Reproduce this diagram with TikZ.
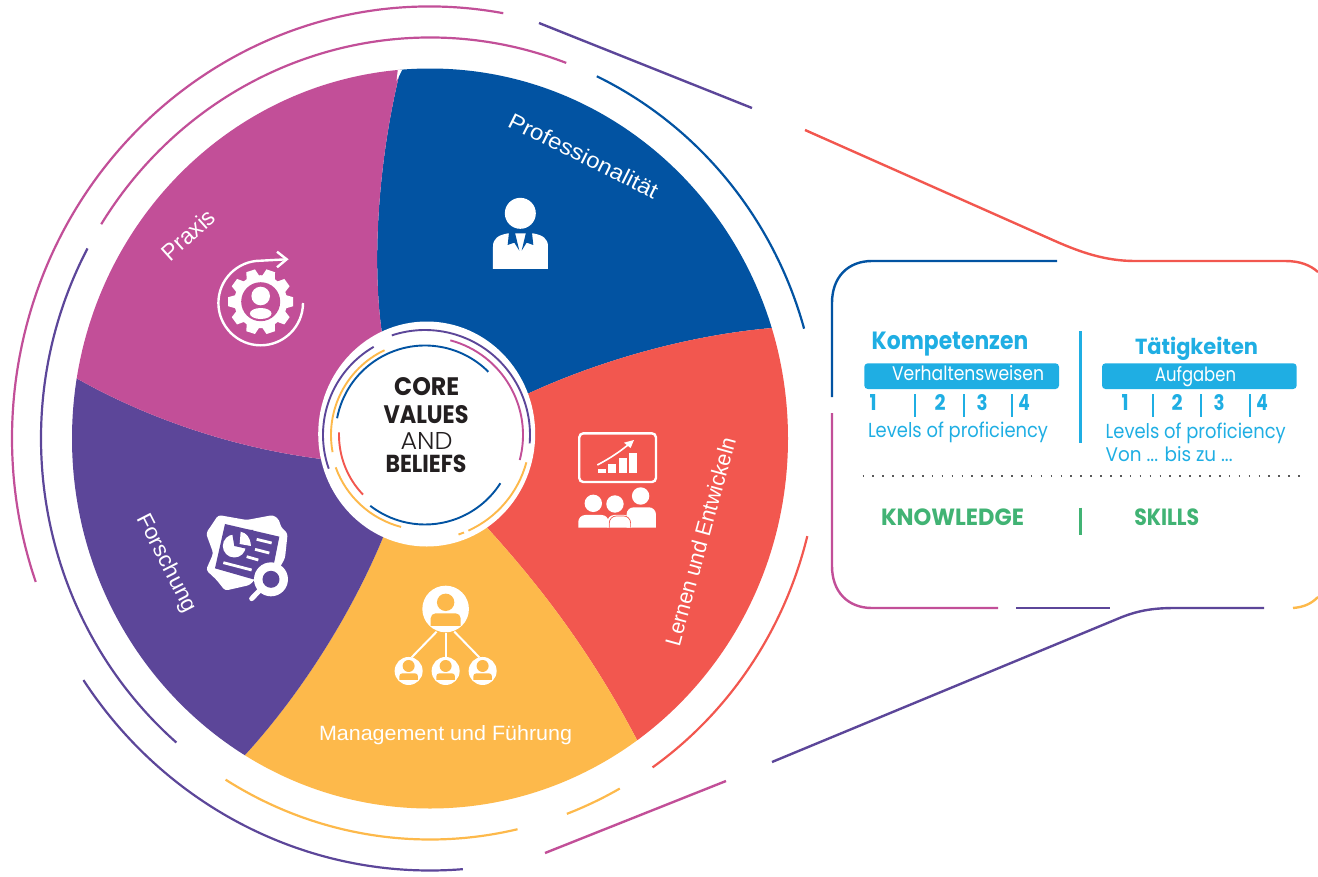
\documentclass[tikz,border=0pt]{standalone}
\usepackage{fontspec}
\usepackage{graphicx}
\setmainfont{Liberation Sans}
\newfontfamily\pop{Poppins}
\newfontfamily\popl{Poppins Light}
\definecolor{cpink}{HTML}{C24F98}
\definecolor{cblue}{HTML}{0253A2}
\definecolor{ccoral}{HTML}{F2574F}
\definecolor{cyellow}{HTML}{FDB94B}
\definecolor{cpurple}{HTML}{5C4699}
\definecolor{ccyan}{HTML}{1FAEE3}
\definecolor{cgreen}{HTML}{41B374}
\definecolor{cdark}{HTML}{231F20}
\newcommand\fitt[3]{\resizebox{#1pt}{#2pt}{#3}}
\tikzset{
  lbl/.style={inner sep=0pt,outer sep=0pt,anchor=base west,text=white},
  ctext/.style={lbl,anchor=base,text=cdark,font=\pop},
  ptext/.style={lbl,text=ccyan,font=\pop},
  pbold/.style={lbl,text=ccyan,font=\pop\bfseries},
  pnum/.style={lbl,anchor=base,text=ccyan,font=\pop\bfseries},
  pgreen/.style={lbl,text=cgreen,font=\pop\bfseries},
  ringline/.style={line width=2.2pt,line cap=butt},
  pline/.style={line width=2.4pt,line cap=butt},
  inring/.style={line width=1.9pt,line cap=butt},
  tick/.style={ccyan,line width=1.5pt},
  icon/.style={white,line width=2.4pt}
}
\newcommand\earc[5]{\draw[ringline,#1] (WC) ++(#4:#2pt and #3pt) arc[start angle=#4,end angle=#5,x radius=#2pt,y radius=#3pt];}
\newcommand\iarc[4]{\draw[inring,#1] (CC) ++(#3:#2pt) arc[start angle=#3,end angle=#4,radius=#2pt];}
\newcommand\tickv[1]{\draw[tick] (#1,394) -- (#1,417);}
\begin{document}
\begin{tikzpicture}[x=1pt,y=-1pt]
\useasboundingbox (0,0) rectangle (1318,876);
\coordinate (WC) at (430,438.5);
\coordinate (CC) at (425,435);
% wheel
\begin{scope}
\clip (430,438.5) ellipse [x radius=358pt,y radius=370pt];
\fill[cblue] (401,0) -- (401,68) .. controls (380,150) and (370,260) .. (383,340) -- (525,395) .. controls (600,360) and (690,335) .. (772,328) -- (900,328) -- (900,0) -- cycle;
\fill[ccoral] (900,328) -- (772,328) .. controls (690,335) and (600,360) .. (525,395) -- (480,520) .. controls (545,590) and (595,660) .. (637,740) -- (900,900) -- cycle;
\fill[cyellow] (637,740) .. controls (595,660) and (545,590) .. (480,520) -- (388,525) .. controls (355,610) and (300,695) .. (245,755) -- (245,900) -- (637,900) -- cycle;
\fill[cpurple] (245,755) .. controls (300,695) and (355,610) .. (388,525) -- (330,460) .. controls (240,450) and (150,420) .. (76,378) -- (0,378) -- (0,900) -- (245,900) -- cycle;
\fill[cpink] (401,0) -- (401,68) .. controls (380,150) and (370,260) .. (383,340) -- (330,460) .. controls (240,450) and (150,420) .. (76,378) -- (0,378) -- (0,0) -- cycle;
\fill[white] (398,68) -- (404,66) -- (396.5,81) -- cycle;
\end{scope}
% outer rings
\earc{cpink}{418}{432}{79.9}{199.4}
\earc{cpurple}{418}{432}{214}{274.5}
\earc{cpink}{389}{401}{69.5}{147.7}
\earc{cpurple}{389}{401}{151.7}{229.3}
\earc{cyellow}{389}{401}{238.3}{283}
\earc{cyellow}{389}{401}{290.6}{299.2}
\earc{ccoral}{389}{401}{304.9}{345.9}
\earc{cblue}{389}{401}{15.9}{64.6}
% funnel and frame
\draw[pline,cpurple] (539,23) -- (752,108);
\draw[pline,ccoral] (805,130) -- (1055,241) .. controls (1080,252) and (1105,261) .. (1135,261) -- (1285,261) .. controls (1300,261) and (1310,265) .. (1318,272);
\draw[pline,cpink] (545,853) -- (726,781);
\draw[pline,cpurple] (772,762) -- (1122,617) .. controls (1140,610) and (1155,608) .. (1175,608) -- (1264,608);
\draw[pline,cblue] (1057,261) -- (872,261) .. controls (848,261) and (832,277) .. (832,303) -- (832,397);
\draw[pline,cpink] (832,413) -- (832,566) .. controls (832,592) and (848,608) .. (872,608) -- (998,608);
\draw[pline,cpurple] (1016,608) -- (1110,608);
\draw[pline,cyellow] (1293,608) .. controls (1305,607) and (1312,603) .. (1318,597);
% centre
\fill[white] (426.7,434) ellipse [x radius=108.5pt,y radius=112.5pt];
\iarc{cpurple}{105}{108.4}{-4.6}
\iarc{cpurple}{102}{120.2}{199.3}
\iarc{cpink}{98}{75}{-14.8}
\iarc{cyellow}{94}{115.5}{190.5}
\iarc{cyellow}{95}{199.9}{255.4}
\iarc{cyellow}{105}{-15.1}{-65.6}
\iarc{cyellow}{105}{-68.2}{-71.4}
\iarc{cblue}{89.5}{169.2}{44.9}
\iarc{ccoral}{86}{178.2}{223.9}
\iarc{cblue}{89.5}{232.3}{327.4}
\node[ctext] (core) at (426.7,395) {\fitt{65}{18}{\bfseries CORE}};
\node[ctext] (values) at (426,423.5) {\fitt{85}{18}{\bfseries VALUES}};
\node[ctext] (and) at (426.5,449) {\fitt{52}{17}{\popl AND}};
\node[ctext] (beliefs) at (426,472.5) {\fitt{81}{17.5}{\bfseries BELIEFS}};
% sector labels
\node[lbl,rotate=-26.5] (prof) at (506.7,126) {\fitt{164}{16}{Professionalität}};
\node[lbl,rotate=42] (praxis) at (170.5,262) {\fitt{63}{17}{Praxis}};
\node[lbl,rotate=-63] (forsch) at (136.7,518) {\fitt{108}{16}{Forschung}};
\node[lbl,rotate=74.7] (lernen) at (679.5,647) {\fitt{215}{16}{Lernen und Entwickeln}};
\node[lbl] (mgmt) at (319,740) {\fitt{253}{15}{Management und Führung}};
% icon: professional
\begin{scope}[shift={(400,0)},x=.3333pt,y=-.3333pt]
\fill[white] (361,640) circle[radius=15.5pt];
\fill[white] (279,807) -- (279,740) .. controls (279,715) and (295,705) .. (325,700) -- (398,700) .. controls (428,705) and (444,715) .. (444,740) -- (444,807) -- cycle;
\fill[cblue] (327,698) -- (323,735) -- (343,728) -- (358,752) -- (345,698) -- cycle;
\fill[cblue] (396,698) -- (400,735) -- (380,728) -- (365,752) -- (378,698) -- cycle;
\end{scope}
% icon: gear
\foreach \a in {18,54,...,342}{
  \fill[white,shift={(260.7,301.7)},rotate=\a] (-7.5pt,22pt) -- (-4.5pt,32.5pt) -- (4.5pt,32.5pt) -- (7.5pt,22pt) -- cycle;
}
\fill[white] (260.7,301.7) circle[radius=26.5pt];
\fill[cpink] (260.7,301.7) circle[radius=19.5pt];
\fill[white] (260.7,296) circle[radius=9.3pt];
\fill[white] (260.7,313.5) ellipse[x radius=10.8pt,y radius=5.5pt];
\draw[icon] (303,303) arc[start angle=0,end angle=-270,radius=42.3pt] -- (286.7,259.3);
\draw[icon] (277,251.7) -- (286.7,259.3) -- (277,267.3);
% icon: research
\begin{scope}[shift={(190,420)},x=.3333pt,y=-.3333pt]
\fill[white,rounded corners=3pt] (48,340) -- (85,285) -- (170,300) -- (250,285) -- (268,300) -- (272,320) -- (293,340) -- (285,415) -- (265,450) -- (210,460) -- (180,495) -- (105,512) -- (80,480) -- (48,450) -- (70,400) -- cycle;
\fill[cpurple] (105,312) -- (268,350) -- (250,440) -- (190,478) -- (75,445) -- cycle;
\fill[white] (133,378) circle[radius=11.5pt];
\fill[cpurple] (133,378) -- (125,330) -- (190,330) -- (178,388) -- cycle;
\fill[white] (149,372) -- (152,335) .. controls (170,340) and (180,350) .. (183,378) -- cycle;
\draw[white,line width=2.8pt] (200,358) -- (245,369);
\draw[white,line width=2.8pt] (195,388) -- (238,399);
\draw[white,line width=2.8pt] (170,410) -- (205,420);
\draw[white,line width=2.8pt] (100,428) -- (185,450);
\fill[white] (243,478) circle[radius=17pt];
\fill[cpurple] (243,478) circle[radius=8.5pt];
\draw[white,line width=5pt,line cap=round] (215,505) -- (185,536);
\end{scope}
% icon: learning
\begin{scope}[shift={(190,420)},x=.3333pt,y=-.3333pt]
\draw[white,line width=2.4pt,rounded corners=4pt] (1168,40) rectangle (1398,186);
\fill[white] (1225,147) rectangle (1249,158);
\fill[white] (1255,133) rectangle (1279,158);
\fill[white] (1288,115) rectangle (1312,158);
\fill[white] (1318,98) rectangle (1341,158);
\draw[white,line width=1.6pt] (1222,135) .. controls (1260,115) and (1290,95) .. (1320,70);
\fill[white] (1332,60) -- (1302,68) -- (1322,84) -- cycle;
\fill[white] (1352,228) circle[radius=8.7pt];
\fill[white] (1210,250) circle[radius=8.7pt];
\fill[white] (1275,252) circle[radius=8.7pt];
\fill[white,rounded corners=7pt] (1310,323) -- (1310,262) -- (1398,262) -- (1398,323);
\fill[white,rounded corners=7pt] (1252,323) -- (1252,285) -- (1324,285) -- (1324,323);
\draw[ccoral,line width=.7pt,rounded corners=7pt] (1258,323) -- (1258,288) -- (1322,288) -- (1322,323);
\fill[white,rounded corners=7pt] (1165,323) -- (1165,285) -- (1256,285) -- (1256,323);
\end{scope}
% icon: management
\begin{scope}[shift={(190,420)},x=.3333pt,y=-.3333pt]
\draw[white,line width=2pt] (740,635) -- (665,712);
\draw[white,line width=2pt] (767,640) -- (767,712);
\draw[white,line width=2pt] (793,635) -- (868,712);
\fill[white] (767,567) circle[radius=23.3pt];
\fill[cyellow] (767,547) circle[radius=8.7pt];
\fill[cyellow,rounded corners=5pt] (722,618) -- (722,580) -- (812,580) -- (812,618);
\foreach \cx in {656,767,878}{
  \fill[white] (\cx,753) circle[radius=14pt];
  \fill[cyellow] (\cx,738) circle[radius=6pt];
  \fill[cyellow,rounded corners=3pt] (\cx-28,780) -- (\cx-28,760) -- (\cx+28,760) -- (\cx+28,780);
}
\end{scope}
% panel
\node[pbold] (komp) at (871.7,349) {\fitt{156.5}{17.5}{Kompetenzen}};
\node[pbold] (taet) at (1135,354) {\fitt{123}{17.5}{Tätigkeiten}};
\fill[ccyan,rounded corners=3.5pt] (864.3,363.3) rectangle (1059,389);
\fill[ccyan,rounded corners=3.5pt] (1102,363.3) rectangle (1296.7,389);
\node[lbl,font=\pop] (verh) at (892,380) {\fitt{152}{15}{Verhaltensweisen}};
\node[lbl,font=\pop] (aufg) at (1155,381) {\fitt{81}{15}{Aufgaben}};
\foreach \n/\x/\w/\t in {a/873/7/1,b/940/11/2,c/982/11/3,d/1024/11.5/4,e/1125/7/1,f/1177/11/2,g/1219/11/3,h/1262/11.5/4}{
  \node[pnum] (num\n) at (\x,410) {\fitt{\w}{16}{\t}};
}
\tickv{915}\tickv{964}\tickv{1012}\tickv{1153}\tickv{1201}\tickv{1250}
\node[ptext] (lev1) at (868,437) {\fitt{180}{15.5}{Levels of proficiency}};
\node[ptext] (lev2) at (1105.7,438.7) {\fitt{180}{15.5}{Levels of proficiency}};
\node[ptext] (von) at (1105.7,461) {\fitt{127}{15}{Von ... bis zu ...}};
\draw[ccyan,line width=2.8pt] (1080.5,331) -- (1080.5,443);
\draw[gray!70!black,line width=1.6pt,dash pattern=on 1.6pt off 8.3pt] (862.5,476) -- (1302,476);
\node[pgreen] (know) at (881,525.7) {\fitt{143}{16.7}{KNOWLEDGE}};
\node[pgreen] (skills) at (1134.3,525.7) {\fitt{65}{16.7}{SKILLS}};
\draw[cgreen,line width=2.8pt] (1080.5,507.7) -- (1080.5,535);
\end{tikzpicture}
\end{document}
